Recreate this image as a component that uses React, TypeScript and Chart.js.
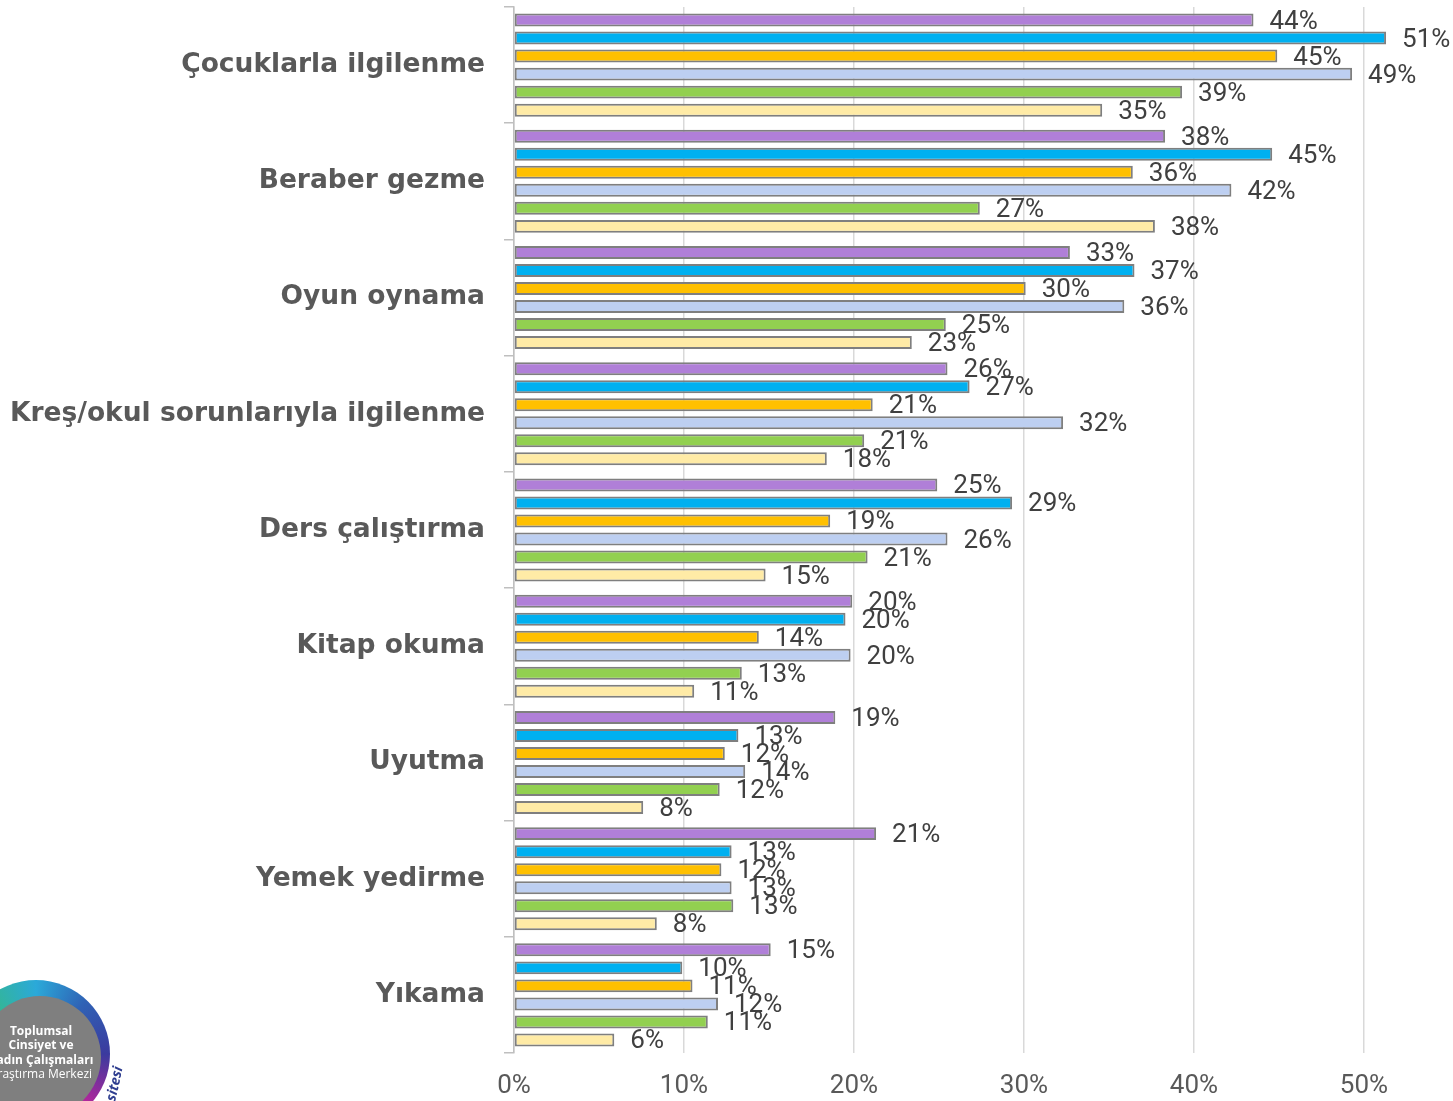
import { useEffect, useRef } from "react";
import { Chart, registerables } from "chart.js";

Chart.register(...registerables);

const categories = [
  "Çocuklarla ilgilenme",
  "Beraber gezme",
  "Oyun oynama",
  "Kreş/okul sorunlarıyla ilgilenme",
  "Ders çalıştırma",
  "Kitap okuma",
  "Uyutma",
  "Yemek yedirme",
  "Yıkama",
];

const seriesPurple = [43.5, 38.3, 32.7, 25.5, 24.9, 19.9, 18.9, 21.3, 15.1];
const seriesCyan = [51.3, 44.6, 36.5, 26.8, 29.3, 19.5, 13.2, 12.8, 9.9];
const seriesOrange = [44.9, 36.4, 30.1, 21.1, 18.6, 14.4, 12.4, 12.2, 10.5];
const seriesLightBlue = [49.3, 42.2, 35.9, 32.3, 25.5, 19.8, 13.6, 12.8, 12.0];
const seriesGreen = [39.3, 27.4, 25.4, 20.6, 20.8, 13.4, 12.1, 12.9, 11.4];
const seriesYellow = [34.6, 37.7, 23.4, 18.4, 14.8, 10.6, 7.6, 8.4, 5.9];

const seriesNames = ["Seri 1", "Seri 2", "Seri 3", "Seri 4", "Seri 5", "Seri 6"];
const seriesColors = ["#B07FD8", "#00B0F0", "#FFC000", "#BDCFF1", "#92D050", "#FFEBA6"];
const seriesValues = [seriesPurple, seriesCyan, seriesOrange, seriesLightBlue, seriesGreen, seriesYellow];

const xTicks = [0, 10, 20, 30, 40, 50];
const xMax = 55;

const logoLines = ["Toplumsal", "Cinsiyet ve", "Kadın Çalışmaları", "Araştırma Merkezi"];
const logoArc = "sitesi";

const barLabelPlugin = {
  id: "barLabels",
  afterDatasetsDraw(chart: any) {
    const ctx = chart.ctx;
    ctx.save();
    ctx.font = "26px Roboto";
    ctx.fillStyle = "#404040";
    ctx.textAlign = "left";
    ctx.textBaseline = "middle";
    chart.data.datasets.forEach((ds: any, i: number) => {
      const meta = chart.getDatasetMeta(i);
      meta.data.forEach((bar: any, j: number) => {
        const v = ds.data[j] as number;
        ctx.fillText(Math.round(v) + "%", bar.x + 16, bar.y + 2);
      });
    });
    ctx.restore();
  },
};

const logoPlugin = {
  id: "logo",
  afterDraw(chart: any) {
    const ctx = chart.ctx as CanvasRenderingContext2D;
    ctx.save();
    const ocx = 36, ocy = 1054, orad = 74;
    const grad = (ctx as any).createConicGradient(0, ocx, ocy);
    grad.addColorStop(0, "#3B3A9E");
    grad.addColorStop(0.12, "#B0279B");
    grad.addColorStop(0.25, "#E0457A");
    grad.addColorStop(0.37, "#F2D21B");
    grad.addColorStop(0.5, "#9BCB3C");
    grad.addColorStop(0.62, "#35B88A");
    grad.addColorStop(0.75, "#2BA9D9");
    grad.addColorStop(0.87, "#2F62B5");
    grad.addColorStop(1, "#3B3A9E");
    ctx.fillStyle = grad;
    ctx.beginPath();
    ctx.arc(ocx, ocy, orad, 0, Math.PI * 2);
    ctx.fill();
    ctx.fillStyle = "#7F7F7F";
    ctx.beginPath();
    ctx.arc(40, 1057, 61, 0, Math.PI * 2);
    ctx.fill();
    ctx.fillStyle = "#FFFFFF";
    ctx.textAlign = "center";
    ctx.textBaseline = "middle";
    const ys = [1032, 1046, 1061, 1075];
    logoLines.forEach((t, i) => {
      ctx.font = (i < 3 ? "bold " : "") + "12px 'Open Sans'";
      ctx.fillText(t, 41, ys[i]);
    });
    ctx.translate(115, 1084);
    ctx.rotate(-1.35);
    ctx.fillStyle = "#2E3D8F";
    ctx.font = "italic bold 14px 'Open Sans'";
    ctx.fillText(logoArc, 0, 0);
    ctx.restore();
  },
};

export default function App() {
  const canvasRef = useRef<HTMLCanvasElement | null>(null);

  useEffect(() => {
    if (!canvasRef.current) return;
    const chart = new Chart(canvasRef.current, {
      type: "bar",
      data: {
        labels: categories,
        datasets: seriesValues.map((vals, i) => ({
          label: seriesNames[i],
          data: vals,
          backgroundColor: seriesColors[i],
          borderColor: "#7F7F7F",
          borderWidth: 2,
          borderSkipped: false,
          categoryPercentage: 0.93,
          barPercentage: 0.72,
        })),
      },
      options: {
        indexAxis: "y",
        animation: false,
        responsive: true,
        maintainAspectRatio: false,
        layout: { padding: { top: 7, right: 4, bottom: 0, left: 0 } },
        plugins: {
          legend: { display: false },
          tooltip: { enabled: false },
        },
        scales: {
          x: {
            min: 0,
            max: xMax,
            afterBuildTicks: (scale: any) => {
              scale.ticks = xTicks.map((v) => ({ value: v }));
            },
            afterFit: (scale: any) => {
              scale.height = 48;
            },
            grid: { color: "#D9D9D9", lineWidth: 1.5, drawTicks: false },
            border: { display: false },
            ticks: {
              callback: (v: any) => v + "%",
              font: { family: "Roboto", size: 26 },
              color: "#595959",
              padding: 18,
              maxRotation: 0,
            },
          },
          y: {
            afterFit: (scale: any) => {
              scale.width = 514;
              scale.paddingTop = 0;
              scale.paddingBottom = 0;
            },
            grid: {
              display: true,
              drawOnChartArea: false,
              drawTicks: true,
              tickLength: 10,
              color: "#BFBFBF",
              lineWidth: 1.5,
              offset: true,
            },
            border: { display: true, color: "#BFBFBF", width: 1.5 },
            ticks: {
              font: { family: "DejaVu Sans", size: 26.5, weight: "bold" },
              color: "#595959",
              padding: 19,
            },
          },
        },
      },
      plugins: [barLabelPlugin, logoPlugin],
    });
    return () => chart.destroy();
  }, []);

  return (
    <div style={{ position: "absolute", left: 0, top: 0, width: 1453, height: 1101, background: "#FFFFFF" }}>
      <canvas ref={canvasRef} />
    </div>
  );
}
